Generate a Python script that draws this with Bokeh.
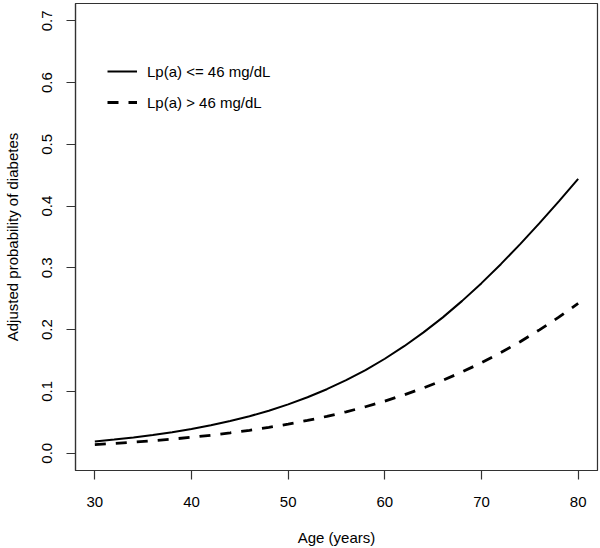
from bokeh.plotting import figure
from bokeh.models import Legend, LegendItem, FixedTicker, Range1d, BoxAnnotation
from bokeh.embed import file_html
from bokeh.resources import INLINE

# Data
age = [30, 32, 34, 36, 38, 40, 42, 44, 46, 48, 50, 52, 54, 56, 58,
       60, 62, 64, 66, 68, 70, 72, 74, 76, 78, 80]
prob_low = [0.0190, 0.0220, 0.0254, 0.0294, 0.0339, 0.0392, 0.0452, 0.0521,
            0.0599, 0.0688, 0.0790, 0.0906, 0.1036, 0.1182, 0.1346, 0.1529,
            0.1732, 0.1956, 0.2199, 0.2466, 0.2753, 0.3060, 0.3385, 0.3724,
            0.4078, 0.4442]
prob_high = [0.0140, 0.0158, 0.0179, 0.0202, 0.0228, 0.0258, 0.0291, 0.0329,
             0.0371, 0.0418, 0.0471, 0.0530, 0.0596, 0.0670, 0.0752, 0.0843,
             0.0945, 0.1056, 0.1180, 0.1316, 0.1465, 0.1629, 0.1805, 0.1997,
             0.2203, 0.2425]
x_ticks = [30, 40, 50, 60, 70, 80]
y_ticks = [0.0, 0.1, 0.2, 0.3, 0.4, 0.5, 0.6, 0.7]
y_tick_labels = ["0.0", "0.1", "0.2", "0.3", "0.4", "0.5", "0.6", "0.7"]
series_labels = ["Lp(a) <= 46 mg/dL", "Lp(a) > 46 mg/dL"]

FONT = "Liberation Sans"
AX = "#333333"

p = figure(width=600, height=548, output_backend="svg", toolbar_location=None,
           x_range=Range1d(28, 82), y_range=Range1d(-0.028, 0.728),
           min_border_left=73, min_border_right=3, min_border_top=3,
           min_border_bottom=76, margin=(0, 0, 0, 0))
p.grid.visible = False
p.outline_line_color = AX
p.outline_line_width = 1.2

r1 = p.line(age, prob_low, line_color="black", line_width=2)
r2 = p.line(age, prob_high, line_color="black", line_width=2.8,
            line_dash="11 10")

for ax in (p.xaxis[0], p.yaxis[0]):
    ax.axis_line_color = AX
    ax.axis_line_width = 1.2
    ax.major_tick_line_color = AX
    ax.major_tick_line_width = 1.2
    ax.major_tick_in = 0
    ax.major_tick_out = 9
    ax.minor_tick_line_color = None
    ax.major_label_text_font = FONT
    ax.major_label_text_font_size = "15px"
    ax.major_label_text_color = "black"
    ax.axis_label_text_font = FONT
    ax.axis_label_text_font_size = "15px"
    ax.axis_label_text_font_style = "normal"
    ax.axis_label_text_color = "black"

p.xaxis[0].ticker = FixedTicker(ticks=x_ticks)
p.yaxis[0].ticker = FixedTicker(ticks=y_ticks)
p.yaxis[0].major_label_overrides = dict(zip(y_ticks, y_tick_labels))
p.yaxis[0].major_label_orientation = "vertical"
p.xaxis[0].axis_label = "Age (years)"
p.yaxis[0].axis_label = "Adjusted probability of diabetes"
p.xaxis[0].major_label_standoff = 17
p.yaxis[0].major_label_standoff = 14
p.xaxis[0].axis_label_standoff = 19
p.yaxis[0].axis_label_standoff = 19

# frame box like the reference (spans the whole plot frame)
frame_box = BoxAnnotation(fill_alpha=0, line_color=AX, line_width=1.2,
                          level="overlay")
p.add_layout(frame_box)

legend = Legend(items=[LegendItem(label=series_labels[0], renderers=[r1]),
                       LegendItem(label=series_labels[1], renderers=[r2])],
                location=(22, 348), margin=0, padding=10,
                glyph_width=30, glyph_height=20, label_height=20,
                label_standoff=10, spacing=11,
                background_fill_alpha=0, border_line_alpha=0,
                label_text_font=FONT, label_text_font_size="15px",
                label_text_color="black")
p.add_layout(legend)

open("out.html", "w").write(file_html(p, INLINE))
